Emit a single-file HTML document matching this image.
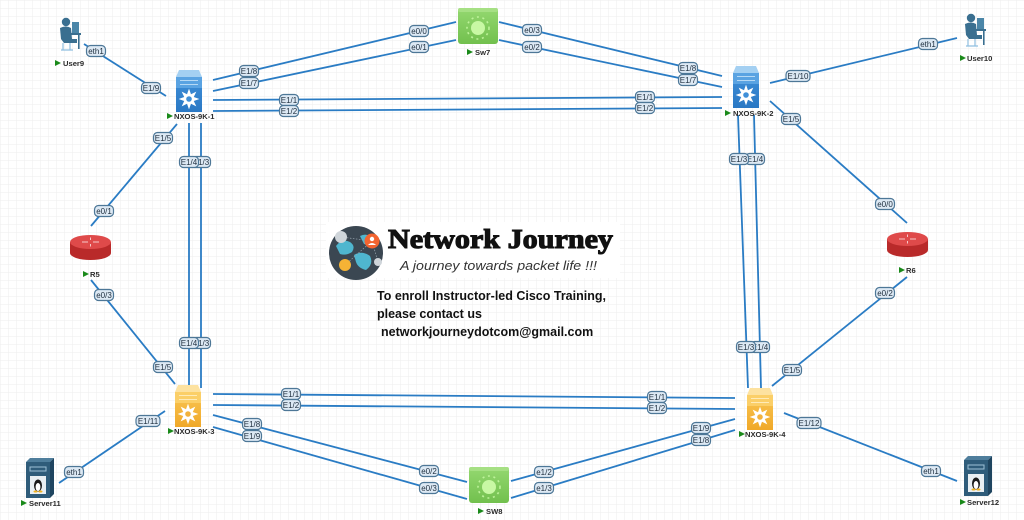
<!DOCTYPE html>
<html><head><meta charset="utf-8"><style>
html,body{margin:0;padding:0;background:#fff;}
svg{display:block;}
.ln{stroke:#2a7cc4;stroke-width:1.8;fill:none;}
.lb rect{fill:#dde9f4;stroke:#4d7797;stroke-width:1.2;}
.lb text{font-family:"Liberation Sans",sans-serif;font-size:8px;fill:#1d2d3d;text-anchor:middle;}
.dl{font-family:"Liberation Sans",sans-serif;font-size:7.6px;font-weight:bold;fill:#2a2a2a;}
.tri{fill:#1a8a1a;}
</style></head><body>
<svg width="1024" height="520" viewBox="0 0 1024 520" xmlns="http://www.w3.org/2000/svg">
<defs>
<pattern id="grid" width="8" height="8" patternUnits="userSpaceOnUse">
<path d="M8,0 L0,0 L0,8" fill="none" stroke="#eeeeee" stroke-width="1"/>
</pattern>
<linearGradient id="blueG" x1="0" y1="0" x2="0" y2="1"><stop offset="0" stop-color="#3f8fd8"/><stop offset="1" stop-color="#2a78c4"/></linearGradient>
<linearGradient id="orG" x1="0" y1="0" x2="0" y2="1"><stop offset="0" stop-color="#f9c654"/><stop offset="1" stop-color="#f0a828"/></linearGradient>
<linearGradient id="grG" x1="0" y1="0" x2="0" y2="1"><stop offset="0" stop-color="#94d870"/><stop offset="1" stop-color="#72c04e"/></linearGradient>
<g id="star" fill="#fff"><path d="M9,0 L4.16,1.72 L6.36,6.36 L1.72,4.16 L0,9 L-1.72,4.16 L-6.36,6.36 L-4.16,1.72 L-9,0 L-4.16,-1.72 L-6.36,-6.36 L-1.72,-4.16 L0,-9 L1.72,-4.16 L6.36,-6.36 L4.16,-1.72 Z"/></g>
<g id="nxb">
<path d="M1,7 L4,0 L24,0 L27,7 Z" fill="#a4d0f2"/>
<rect x="1" y="7" width="26" height="35" fill="url(#blueG)"/>
<rect x="1" y="7" width="26" height="11" fill="#5aa3e2"/>
<line x1="5" y1="10.5" x2="23" y2="10.5" stroke="#d6ebfb" stroke-width="0.8"/>
<line x1="5" y1="14.5" x2="23" y2="14.5" stroke="#d6ebfb" stroke-width="0.8"/>
<use href="#star" transform="translate(14,29) scale(1.15)"/>
<circle cx="14" cy="29" r="2.8" fill="#3f8fd8"/>
</g>
<g id="nxo">
<path d="M1,7 L4,0 L24,0 L27,7 Z" fill="#fde2a0"/>
<rect x="1" y="7" width="26" height="35" fill="url(#orG)"/>
<rect x="1" y="7" width="26" height="11" fill="#fbcf68"/>
<line x1="5" y1="10.5" x2="23" y2="10.5" stroke="#fff4d4" stroke-width="0.8"/>
<line x1="5" y1="14.5" x2="23" y2="14.5" stroke="#fff4d4" stroke-width="0.8"/>
<use href="#star" transform="translate(14,29) scale(1.15)"/>
<circle cx="14" cy="29" r="2.8" fill="#f2b23c"/>
</g>
<g id="sw">
<rect x="0" y="0" width="40" height="36" rx="3" fill="url(#grG)"/>
<rect x="0" y="0" width="40" height="4" rx="2" fill="#a6e084"/>
<circle cx="20" cy="20" r="7" fill="#c8f8a4"/>
<circle cx="20" cy="20" r="11" fill="none" stroke="#bdf29a" stroke-width="1.6" stroke-dasharray="2 3.6"/>
</g>
<g id="rt">
<path d="M0,7 L0,18 A20.5,7 0 0 0 41,18 L41,7 Z" fill="#b92a2a"/>
<ellipse cx="20.5" cy="7" rx="20.5" ry="7" fill="#df4a4a"/>
<path d="M12,7 L18,7 M23,7 L29,7 M20.5,2.5 L20.5,5 M20.5,9 L20.5,11.5" stroke="#f6c8c8" stroke-width="1"/>
</g>
<g id="user" fill="#3a6f90">
<circle cx="9" cy="5" r="4.2"/>
<path d="M3,11 Q9,8 14,11 L15,22 L20,22 L20,26 L7,26 L4,22 Z"/>
<rect x="15" y="5" width="7" height="11" fill="#4b86a8"/>
<rect x="13" y="16" width="11" height="2"/>
<rect x="21" y="18" width="1.6" height="14"/>
<path d="M6,26 L6,33 M13,26 L13,33 M4,33 L16,33" stroke="#8fbfe0" stroke-width="1.2" fill="none"/>
</g>
<g id="srv">
<polygon points="0,4 4,0 28,0 24,4" fill="#4f7e9c"/>
<polygon points="24,4 28,0 28,36 24,40" fill="#1f4560"/>
<rect x="0" y="4" width="24" height="36" fill="#2f5c7a"/>
<rect x="4" y="9" width="16" height="4" fill="none" stroke="#9cc0d6" stroke-width="1"/>
<rect x="4" y="18" width="16" height="18" fill="#e9eff3"/>
<ellipse cx="12" cy="27.5" rx="4" ry="6" fill="#1a1a1a"/>
<ellipse cx="12" cy="29" rx="2.4" ry="4" fill="#fff"/>
<ellipse cx="9.5" cy="33.5" rx="2" ry="1" fill="#f2b21e"/>
<ellipse cx="14.5" cy="33.5" rx="2" ry="1" fill="#f2b21e"/>
</g>
<polygon id="tr" points="0,0 6,3 0,6" class="tri"/>
</defs>

<rect width="1024" height="520" fill="#fff"/>
<rect width="1024" height="520" fill="url(#grid)"/>

<!-- links -->
<g class="ln">
<line x1="84" y1="44" x2="166" y2="96"/>
<line x1="213" y1="80" x2="456" y2="22"/>
<line x1="213" y1="91" x2="456" y2="40"/>
<line x1="499" y1="22" x2="722" y2="76"/>
<line x1="499" y1="40" x2="722" y2="87"/>
<line x1="213" y1="100" x2="722" y2="97"/>
<line x1="213" y1="111" x2="722" y2="108"/>
<line x1="770" y1="83" x2="957" y2="38"/>
<line x1="770" y1="101" x2="907" y2="223"/>
<line x1="177" y1="124" x2="91" y2="226"/>
<line x1="91" y1="280" x2="175" y2="384"/>
<line x1="189" y1="123" x2="189" y2="388"/>
<line x1="201" y1="123" x2="201" y2="388"/>
<line x1="738" y1="115" x2="748" y2="388"/>
<line x1="754" y1="115" x2="761" y2="388"/>
<line x1="213" y1="394" x2="735" y2="398"/>
<line x1="213" y1="405" x2="735" y2="409"/>
<line x1="213" y1="415" x2="467" y2="482"/>
<line x1="213" y1="427" x2="467" y2="499"/>
<line x1="511" y1="481" x2="735" y2="419"/>
<line x1="511" y1="498" x2="735" y2="430"/>
<line x1="772" y1="386" x2="907" y2="277"/>
<line x1="784" y1="413" x2="957" y2="481"/>
<line x1="59" y1="483" x2="165" y2="411"/>
</g>

<!-- devices -->
<use href="#nxb" x="175" y="70"/>
<use href="#nxb" x="732" y="66"/>
<use href="#nxo" x="174" y="385"/>
<use href="#nxo" x="746" y="388"/>
<use href="#sw" x="458" y="8"/>
<use href="#sw" x="469" y="467"/>
<use href="#rt" x="70" y="235"/>
<use href="#rt" x="887" y="232"/>
<use href="#user" x="57" y="17"/>
<use href="#user" x="962" y="13"/>
<use href="#srv" x="26" y="458"/>
<use href="#srv" x="964" y="456"/>

<!-- device labels -->
<use href="#tr" x="167" y="113"/><text class="dl" x="174" y="119">NXOS-9K-1</text>
<use href="#tr" x="725" y="110"/><text class="dl" x="733" y="116">NXOS-9K-2</text>
<use href="#tr" x="168" y="428"/><text class="dl" x="174" y="434">NXOS-9K-3</text>
<use href="#tr" x="739" y="431"/><text class="dl" x="745" y="437">NXOS-9K-4</text>
<use href="#tr" x="467" y="49"/><text class="dl" x="475" y="55">Sw7</text>
<use href="#tr" x="478" y="508"/><text class="dl" x="486" y="514">SW8</text>
<use href="#tr" x="83" y="271"/><text class="dl" x="90" y="277">R5</text>
<use href="#tr" x="899" y="267"/><text class="dl" x="906" y="273">R6</text>
<use href="#tr" x="55" y="60"/><text class="dl" x="63" y="66">User9</text>
<use href="#tr" x="960" y="55"/><text class="dl" x="967" y="61">User10</text>
<use href="#tr" x="21" y="500"/><text class="dl" x="29" y="506">Server11</text>
<use href="#tr" x="960" y="499"/><text class="dl" x="967" y="505">Server12</text>

<!-- interface labels -->
<g class="lb">
<rect x="86.5" y="45.5" width="19" height="11" rx="4"/><text x="96" y="54">eth1</text>
<rect x="141.5" y="82.5" width="19" height="11" rx="4"/><text x="151" y="91">E1/9</text>
<rect x="239.5" y="65.5" width="19" height="11" rx="4"/><text x="249" y="74">E1/8</text>
<rect x="239.5" y="77.5" width="19" height="11" rx="4"/><text x="249" y="86">E1/7</text>
<rect x="409.5" y="25.5" width="19" height="11" rx="4"/><text x="419" y="34">e0/0</text>
<rect x="409.5" y="41.5" width="19" height="11" rx="4"/><text x="419" y="50">e0/1</text>
<rect x="522.5" y="24.5" width="19" height="11" rx="4"/><text x="532" y="33">e0/3</text>
<rect x="522.5" y="41.5" width="19" height="11" rx="4"/><text x="532" y="50">e0/2</text>
<rect x="678.5" y="62.5" width="19" height="11" rx="4"/><text x="688" y="71">E1/8</text>
<rect x="678.5" y="74.5" width="19" height="11" rx="4"/><text x="688" y="83">E1/7</text>
<rect x="279.5" y="94.5" width="19" height="11" rx="4"/><text x="289" y="103">E1/1</text>
<rect x="279.5" y="105.5" width="19" height="11" rx="4"/><text x="289" y="114">E1/2</text>
<rect x="635.5" y="91.5" width="19" height="11" rx="4"/><text x="645" y="100">E1/1</text>
<rect x="635.5" y="102.5" width="19" height="11" rx="4"/><text x="645" y="111">E1/2</text>
<rect x="786" y="70.5" width="24" height="11" rx="4"/><text x="798" y="79">E1/10</text>
<rect x="918.5" y="38.5" width="19" height="11" rx="4"/><text x="928" y="47">eth1</text>
<rect x="781.5" y="113.5" width="19" height="11" rx="4"/><text x="791" y="122">E1/5</text>
<rect x="875.5" y="198.5" width="19" height="11" rx="4"/><text x="885" y="207">e0/0</text>
<rect x="153.5" y="132.5" width="19" height="11" rx="4"/><text x="163" y="141">E1/5</text>
<rect x="94.5" y="205.5" width="19" height="11" rx="4"/><text x="104" y="214">e0/1</text>
<rect x="94.5" y="289.5" width="19" height="11" rx="4"/><text x="104" y="298">e0/3</text>
<rect x="153.5" y="361.5" width="19" height="11" rx="4"/><text x="163" y="370">E1/5</text>
<rect x="191.5" y="156.5" width="19" height="11" rx="4"/><text x="201" y="165">E1/3</text>
<rect x="179.5" y="156.5" width="19" height="11" rx="4"/><text x="189" y="165">E1/4</text>
<rect x="191.5" y="337.5" width="19" height="11" rx="4"/><text x="201" y="346">E1/3</text>
<rect x="179.5" y="337.5" width="19" height="11" rx="4"/><text x="189" y="346">E1/4</text>
<rect x="745.5" y="153.5" width="19" height="11" rx="4"/><text x="755" y="162">E1/4</text>
<rect x="729.5" y="153.5" width="19" height="11" rx="4"/><text x="739" y="162">E1/3</text>
<rect x="750.5" y="341.5" width="19" height="11" rx="4"/><text x="760" y="350">E1/4</text>
<rect x="736.5" y="341.5" width="19" height="11" rx="4"/><text x="746" y="350">E1/3</text>
<rect x="281.5" y="388.5" width="19" height="11" rx="4"/><text x="291" y="397">E1/1</text>
<rect x="281.5" y="399.5" width="19" height="11" rx="4"/><text x="291" y="408">E1/2</text>
<rect x="647.5" y="391.5" width="19" height="11" rx="4"/><text x="657" y="400">E1/1</text>
<rect x="647.5" y="402.5" width="19" height="11" rx="4"/><text x="657" y="411">E1/2</text>
<rect x="242.5" y="418.5" width="19" height="11" rx="4"/><text x="252" y="427">E1/8</text>
<rect x="242.5" y="430.5" width="19" height="11" rx="4"/><text x="252" y="439">E1/9</text>
<rect x="419.5" y="465.5" width="19" height="11" rx="4"/><text x="429" y="474">e0/2</text>
<rect x="419.5" y="482.5" width="19" height="11" rx="4"/><text x="429" y="491">e0/3</text>
<rect x="534.5" y="466.5" width="19" height="11" rx="4"/><text x="544" y="475">e1/2</text>
<rect x="534.5" y="482.5" width="19" height="11" rx="4"/><text x="544" y="491">e1/3</text>
<rect x="691.5" y="422.5" width="19" height="11" rx="4"/><text x="701" y="431">E1/9</text>
<rect x="691.5" y="434.5" width="19" height="11" rx="4"/><text x="701" y="443">E1/8</text>
<rect x="782.5" y="364.5" width="19" height="11" rx="4"/><text x="792" y="373">E1/5</text>
<rect x="875.5" y="287.5" width="19" height="11" rx="4"/><text x="885" y="296">e0/2</text>
<rect x="797" y="417.5" width="24" height="11" rx="4"/><text x="809" y="426">E1/12</text>
<rect x="921.5" y="465.5" width="19" height="11" rx="4"/><text x="931" y="474">eth1</text>
<rect x="64.5" y="466.5" width="19" height="11" rx="4"/><text x="74" y="475">eth1</text>
<rect x="136" y="415.5" width="24" height="11" rx="4"/><text x="148" y="424">E1/11</text>
</g>

<!-- logo -->
<rect x="326" y="222" width="294" height="56" fill="#fff"/>
<circle cx="356" cy="253" r="27" fill="#3b4752"/>
<path d="M336,246 Q342,238 350,242 Q356,246 352,252 Q346,256 340,254 Z" fill="#4fb6cf"/>
<path d="M354,255 Q362,250 370,256 Q374,264 366,270 Q358,268 356,262 Z" fill="#4fb6cf"/>
<path d="M360,236 Q368,232 374,240 Q370,246 364,244 Z" fill="#4fb6cf"/>
<path d="M341,237 L372,241 L345,265 M372,241 L378,262" stroke="#9aa6b0" stroke-width="0.7" stroke-dasharray="1.5 1.5" fill="none"/>
<circle cx="341" cy="237" r="6" fill="#cfd5da"/>
<circle cx="372" cy="241" r="7.5" fill="#f26430"/>
<circle cx="372" cy="239" r="2.2" fill="#fff"/>
<path d="M368,245 Q372,241 376,245 Z" fill="#fff"/>
<circle cx="345" cy="265" r="6" fill="#f5b335"/>
<circle cx="378" cy="262" r="4" fill="#cfd5da"/>
<text x="388" y="248" font-family="'Liberation Serif',serif" font-weight="bold" font-size="27" fill="#111" stroke="#111" stroke-width="1.1" textLength="225" lengthAdjust="spacingAndGlyphs">Network Journey</text>
<text x="400" y="270" font-family="'Liberation Sans',sans-serif" font-style="italic" font-size="12.5" fill="#333" textLength="197" lengthAdjust="spacingAndGlyphs">A journey towards packet life !!!</text>

<g font-family="'Liberation Sans',sans-serif" font-weight="bold" font-size="12.5" fill="#111">
<text x="377" y="300">To enroll Instructor-led Cisco Training,</text>
<text x="377" y="318">please contact us</text>
<text x="381" y="336">networkjourneydotcom@gmail.com</text>
</g>
</svg>
</body></html>
